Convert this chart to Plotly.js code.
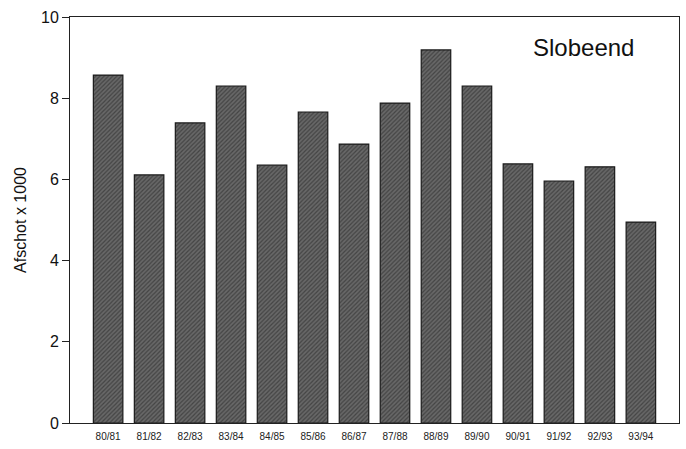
<!DOCTYPE html>
<html>
<head>
<meta charset="utf-8">
<script src="https://cdn.plot.ly/plotly-3.0.1.min.js"></script>
<style>html,body{margin:0;padding:0;background:#fff;}#chart{width:686px;height:449px;}</style>
</head>
<body>
<div id="chart"></div>
<script>
const seasons = ["80/81","81/82","82/83","83/84","84/85","85/86","86/87","87/88","88/89","89/90","90/91","91/92","92/93","93/94"];
const afschot = [8.57, 6.11, 7.39, 8.30, 6.35, 7.66, 6.87, 7.88, 9.19, 8.30, 6.38, 5.96, 6.31, 4.95];
const yTicks = [0, 2, 4, 6, 8, 10];

const trace = {
  type: 'bar',
  x: seasons,
  y: afschot,
  marker: {
    color: '#606060',
    line: {color: '#1a1a1a', width: 1.2},
    pattern: {shape: '/', fgcolor: '#444444', bgcolor: '#686868', size: 3, solidity: 0.4}
  },
  hoverinfo: 'x+y'
};

const layout = {
  width: 686, height: 449,
  margin: {l: 70, r: 7, t: 17, b: 26},
  paper_bgcolor: '#fff', plot_bgcolor: '#fff',
  bargap: 0.28,
  showlegend: false,
  font: {family: 'Liberation Sans, Arial, sans-serif', color: '#111'},
  xaxis: {
    type: 'category',
    range: [-0.93, 13.93],
    showline: true, linecolor: '#222', linewidth: 1, mirror: true,
    ticks: '', showgrid: false, zeroline: false,
    tickfont: {size: 10, color: '#222'},
    ticklabelstandoff: 4
  },
  yaxis: {
    range: [0, 10],
    tickvals: yTicks,
    showline: true, linecolor: '#222', linewidth: 1, mirror: true,
    ticks: 'outside', ticklen: 7, tickcolor: '#222',
    showgrid: false, zeroline: false,
    tickfont: {size: 16, color: '#111'},
    title: {text: 'Afschot x 1000', font: {size: 16, color: '#111'}, standoff: 10}
  },
  annotations: [{
    text: 'Slobeend', xref: 'paper', yref: 'paper', x: 0.844, y: 0.926,
    xanchor: 'center', yanchor: 'middle', showarrow: false,
    font: {size: 24, color: '#111'}
  }]
};

Plotly.newPlot('chart', [trace], layout, {displayModeBar: false, staticPlot: true});
</script>
</body>
</html>
